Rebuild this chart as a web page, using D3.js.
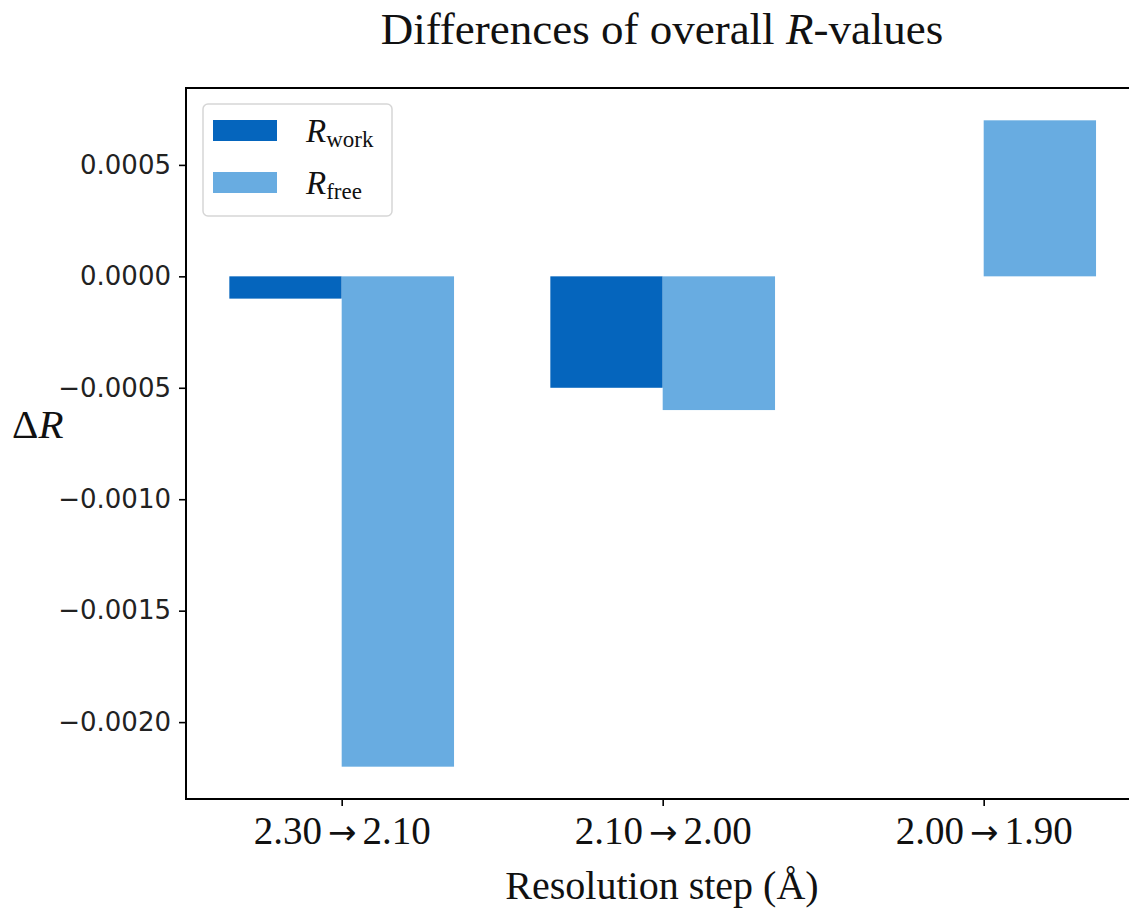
<!DOCTYPE html>
<html>
<head>
<meta charset="utf-8">
<script src="https://cdn.jsdelivr.net/npm/d3@7"></script>
<style>
  body { margin: 0; background: #fff; }
  svg { display: block; }
</style>
</head>
<body>
<div id="chart"></div>
<script>
// data
const steps = [["2.30", "2.10"], ["2.10", "2.00"], ["2.00", "1.90"]];
const rWork = [-0.0001, -0.0005, 0.0];
const rFree = [-0.0022, -0.0006, 0.0007];
const yTicks = [0.0005, 0.0, -0.0005, -0.0010, -0.0015, -0.0020];

const serif = "'Liberation Serif', 'DejaVu Serif', serif";
const sans = "'DejaVu Sans', sans-serif";
const colWork = "#0565bd";
const colFree = "#68ace1";

const W = 1129, H = 911;
const plot = {left: 186, top: 88, bottom: 799};
const barW = 0.35;

let svg = d3.select("#chart")
    .append("svg")
    .attr("width", W)
    .attr("height", H);

// x is a linear scale over the group index, like matplotlib's bar positions
const x = d3.scaleLinear()
    .domain([-0.485, 2.485])
    .range([plot.left, plot.left + 2.97 * 321]);

const y = d3.scaleLinear()
    .domain([-0.002345, 0.000845])
    .range([plot.bottom, plot.top]);

let g = svg.append("g");

// bars
function drawBars(vals, offset, col) {
    g.selectAll(null)
        .data(vals)
        .enter()
        .append("rect")
        .attr("x", (d, i) => x(i + offset))
        .attr("width", x(barW) - x(0))
        .attr("y", d => y(Math.max(0, d)))
        .attr("height", d => Math.abs(y(d) - y(0)))
        .attr("fill", col);
}
drawBars(rWork, -barW, colWork);
drawBars(rFree, 0, colFree);

// frame
const x0 = x.range()[0], x1 = x.range()[1];
g.append("rect")
    .attr("x", x0)
    .attr("y", plot.top)
    .attr("width", x1 - x0)
    .attr("height", plot.bottom - plot.top)
    .attr("fill", "none")
    .attr("stroke", "#000")
    .attr("stroke-width", 2);

// y axis
let yAxis = g.append("g")
    .attr("transform", "translate(" + x0 + ",0)")
    .call(d3.axisLeft(y).tickValues(yTicks).tickSize(7).tickPadding(8)
        .tickFormat(d => d3.format(".4f")(d).replace("-", "\u2212")));
yAxis.select(".domain").remove();
yAxis.selectAll("line").attr("stroke-width", 1.6);
yAxis.selectAll("text")
    .attr("font-family", sans)
    .attr("font-size", 26)
    .attr("fill", "#222");

// x axis, arrow drawn in a wider font like the LaTeX \rightarrow
let xAxis = g.append("g")
    .attr("transform", "translate(0," + plot.bottom + ")")
    .call(d3.axisBottom(x).tickValues([0, 1, 2]).tickSize(7).tickPadding(10)
        .tickFormat(""));
xAxis.select(".domain").remove();
xAxis.selectAll("line").attr("stroke-width", 1.6);
xAxis.selectAll("text")
    .attr("font-family", serif)
    .attr("font-size", 39)
    .attr("fill", "#111")
    .each(function(d, i) {
        let t = d3.select(this);
        t.append("tspan").text(steps[i][0]);
        t.append("tspan").attr("font-family", sans).attr("font-size", 34)
            .attr("dx", 6).text("\u2192");
        t.append("tspan").attr("dx", 6).text(steps[i][1]);
    });

// title
let title = svg.append("text")
    .attr("x", 662)
    .attr("y", 44)
    .attr("text-anchor", "middle")
    .attr("font-family", serif)
    .attr("font-size", 45)
    .attr("fill", "#111");
title.append("tspan").text("Differences of overall ");
title.append("tspan").attr("font-style", "italic").text("R");
title.append("tspan").text("-values");

// axis labels
svg.append("text")
    .attr("x", 662)
    .attr("y", 899)
    .attr("text-anchor", "middle")
    .attr("font-family", serif)
    .attr("font-size", 40)
    .attr("fill", "#111")
    .text("Resolution step (\u00c5)");

let ylab = svg.append("text")
    .attr("x", 12)
    .attr("y", 438)
    .attr("font-family", serif)
    .attr("font-size", 41)
    .attr("fill", "#111");
ylab.append("tspan").text("\u0394");
ylab.append("tspan").attr("font-style", "italic").text("R");

// legend
let legend = svg.append("g").attr("transform", "translate(203,104)");
legend.append("rect")
    .attr("width", 189)
    .attr("height", 112)
    .attr("rx", 5)
    .attr("fill", "#fff")
    .attr("fill-opacity", 0.8)
    .attr("stroke", "#d6d6d6")
    .attr("stroke-width", 1.5);

const legendItems = [
    {name: "work", col: colWork},
    {name: "free", col: colFree}
];
legendItems.forEach((d, i) => {
    let row = legend.append("g").attr("transform", "translate(0," + (16 + i * 52) + ")");
    row.append("rect")
        .attr("x", 10)
        .attr("width", 64)
        .attr("height", 21)
        .attr("fill", d.col);
    let t = row.append("text")
        .attr("x", 103)
        .attr("y", 22)
        .attr("font-family", serif)
        .attr("font-size", 33)
        .attr("fill", "#111");
    t.append("tspan").attr("font-style", "italic").text("R");
    t.append("tspan").attr("font-size", 23).attr("dy", 5).text(d.name);
});
</script>
</body>
</html>
